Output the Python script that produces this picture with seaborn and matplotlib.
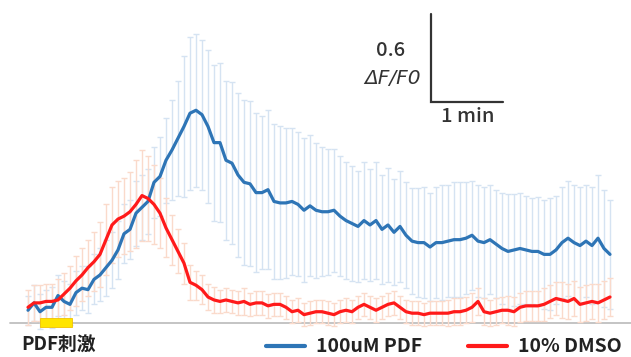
import numpy as np
import pandas as pd
import matplotlib
matplotlib.use('Agg')
import matplotlib.pyplot as plt
from matplotlib.patches import Rectangle
import seaborn as sns

# time in seconds (one frame every 5 s)
time_s = np.arange(0, 490, 5)

# mean dF/F0 and SEM, 100uM PDF
pdf_mean = [0.08, 0.13, 0.07, 0.10, 0.10, 0.18, 0.14, 0.12, 0.20, 0.23,
            0.22, 0.29, 0.32, 0.37, 0.42, 0.49, 0.60, 0.63, 0.74, 0.78,
            0.82, 0.95, 0.99, 1.10, 1.17, 1.25, 1.33, 1.42, 1.44, 1.41,
            1.33, 1.22, 1.22, 1.10, 1.08, 1.00, 0.95, 0.94, 0.88, 0.88,
            0.90, 0.82, 0.81, 0.81, 0.82, 0.80, 0.76, 0.79, 0.76, 0.75,
            0.75, 0.76, 0.72, 0.69, 0.67, 0.65, 0.69, 0.66, 0.69, 0.63,
            0.66, 0.61, 0.65, 0.59, 0.55, 0.54, 0.54, 0.51, 0.54, 0.54,
            0.55, 0.56, 0.56, 0.57, 0.59, 0.55, 0.54, 0.56, 0.53, 0.50,
            0.48, 0.49, 0.50, 0.49, 0.48, 0.48, 0.46, 0.46, 0.49, 0.54,
            0.57, 0.54, 0.52, 0.55, 0.52, 0.57, 0.50, 0.46]
pdf_sem = [0.10, 0.12, 0.12, 0.12, 0.14, 0.14, 0.14, 0.14, 0.15, 0.15,
           0.16, 0.17, 0.18, 0.19, 0.19, 0.20, 0.20, 0.20, 0.22, 0.22,
           0.22, 0.24, 0.27, 0.29, 0.34, 0.39, 0.48, 0.52, 0.52, 0.51,
           0.52, 0.53, 0.54, 0.54, 0.55, 0.56, 0.56, 0.56, 0.54, 0.52,
           0.54, 0.53, 0.52, 0.51, 0.50, 0.49, 0.49, 0.48, 0.46, 0.44,
           0.43, 0.42, 0.41, 0.40, 0.39, 0.38, 0.40, 0.38, 0.40, 0.37,
           0.39, 0.36, 0.38, 0.36, 0.36, 0.37, 0.38, 0.37, 0.38, 0.39,
           0.38, 0.39, 0.39, 0.38, 0.37, 0.38, 0.38, 0.37, 0.37, 0.38,
           0.39, 0.38, 0.38, 0.37, 0.36, 0.37, 0.37, 0.38, 0.37, 0.38,
           0.39, 0.39, 0.40, 0.38, 0.40, 0.43, 0.40, 0.37]

# mean dF/F0 and SEM, 10% DMSO
dmso_mean = [0.10, 0.13, 0.13, 0.14, 0.14, 0.15, 0.19, 0.23, 0.28, 0.32,
             0.37, 0.41, 0.46, 0.56, 0.66, 0.70, 0.72, 0.75, 0.80, 0.86,
             0.84, 0.80, 0.74, 0.64, 0.56, 0.48, 0.40, 0.27, 0.25, 0.22,
             0.17, 0.15, 0.14, 0.15, 0.14, 0.13, 0.14, 0.12, 0.13, 0.13,
             0.11, 0.12, 0.12, 0.10, 0.07, 0.08, 0.05, 0.06, 0.07, 0.07,
             0.06, 0.05, 0.07, 0.08, 0.07, 0.10, 0.12, 0.10, 0.08, 0.10,
             0.12, 0.13, 0.10, 0.07, 0.06, 0.06, 0.05, 0.06, 0.06, 0.06,
             0.06, 0.07, 0.07, 0.08, 0.10, 0.14, 0.07, 0.06, 0.07, 0.08,
             0.08, 0.07, 0.10, 0.11, 0.11, 0.11, 0.12, 0.14, 0.16, 0.15,
             0.14, 0.16, 0.12, 0.13, 0.14, 0.13, 0.15, 0.17]
dmso_sem = [0.12, 0.12, 0.12, 0.12, 0.12, 0.14, 0.14, 0.15, 0.17, 0.18,
            0.19, 0.20, 0.22, 0.24, 0.26, 0.26, 0.26, 0.27, 0.30, 0.31,
            0.29, 0.27, 0.24, 0.20, 0.17, 0.15, 0.14, 0.12, 0.10, 0.10,
            0.09, 0.09, 0.08, 0.08, 0.08, 0.08, 0.09, 0.08, 0.08, 0.08,
            0.08, 0.08, 0.08, 0.08, 0.08, 0.08, 0.08, 0.08, 0.08, 0.08,
            0.08, 0.08, 0.08, 0.08, 0.08, 0.08, 0.08, 0.08, 0.08, 0.08,
            0.08, 0.08, 0.08, 0.08, 0.08, 0.08, 0.08, 0.08, 0.08, 0.08,
            0.09, 0.09, 0.09, 0.09, 0.10, 0.09, 0.09, 0.09, 0.09, 0.09,
            0.10, 0.10, 0.10, 0.10, 0.10, 0.10, 0.11, 0.11, 0.11, 0.12,
            0.12, 0.12, 0.12, 0.12, 0.12, 0.13, 0.13, 0.13]

series_labels = ['100uM PDF', '10% DMSO']
line_colors = ['#2E75B6', '#FF1A1A']
bar_colors = ['#D5E3F2', '#FADACB']

stim_start, stim_end = 10, 37  # PDF application window (s)

df = pd.DataFrame({
    'time': np.concatenate([time_s, time_s]),
    'dff': np.concatenate([pdf_mean, dmso_mean]),
    'sem': np.concatenate([pdf_sem, dmso_sem]),
    'group': [series_labels[0]] * len(time_s) + [series_labels[1]] * len(time_s),
})

sns.set_style('white')
plt.rcParams['font.family'] = ['Noto Sans CJK JP', 'DejaVu Sans']

fig = plt.figure(figsize=(6.31, 3.57), dpi=100)
ax = fig.add_axes([0, 0, 1, 1])

# error bars first so the traces sit on top
for label, bcol in zip(series_labels, bar_colors):
    sub = df[df['group'] == label]
    ax.errorbar(sub['time'], sub['dff'], yerr=sub['sem'], fmt='none',
                ecolor=bcol, elinewidth=1.0, capsize=2.0, capthick=1.0, zorder=2)

sns.lineplot(data=df, x='time', y='dff', hue='group', hue_order=series_labels,
             palette=line_colors, linewidth=2.3, ax=ax, zorder=4, legend=False)

# baseline and stimulus marker
ax.plot([-15, 520], [-0.005, -0.005], color='#BFBFBF', lw=1.3, zorder=1)
ax.add_patch(Rectangle((stim_start, -0.034), stim_end - stim_start, 0.061,
                       facecolor='#FFE500', edgecolor='#F2C200', lw=0.6, zorder=5))

# scale bar: 0.6 dF/F0 by 1 min
sx, sy = 335.8, 1.497
ax.plot([sx, sx, sx + 60], [sy + 0.6, sy, sy], color='#333333', lw=1.6,
        solid_joinstyle='miter', zorder=5)

ax.set_xlim(-23.33, 502.5)
ax.set_ylim(-0.238, 2.190)
ax.axis('off')

W, H = 631, 357
fig.text(405 / W, 1 - 50 / H, '0.6', ha='right', va='center', fontsize=14.5,
         fontweight='medium', color='#333333')
fig.text(421 / W, 1 - 78 / H, 'ΔF/F0', ha='right', va='center', fontsize=14.5,
         family=['DejaVu Sans'], style='italic', color='#333333')
fig.text(468 / W, 1 - 117 / H, '1 min', ha='center', va='center', fontsize=14.5,
         fontweight='medium', color='#333333')
fig.text(21 / W, 1 - 345 / H, 'PDF刺激', ha='left', va='center', fontsize=13.5,
         fontweight='bold', color='#222222')

# legend drawn along the bottom edge
handles = [plt.Line2D([], [], color=c, lw=3) for c in line_colors]
ax.legend(handles, series_labels, loc='center left',
          bbox_to_anchor=(266 / W, 1 - 347 / H), ncol=2, frameon=False,
          handlelength=2.0, handletextpad=0.55, columnspacing=2.4,
          prop={'weight': 'bold', 'size': 14}, labelcolor='#222222',
          borderaxespad=0, borderpad=0)

fig.savefig('out.png', dpi=100)
